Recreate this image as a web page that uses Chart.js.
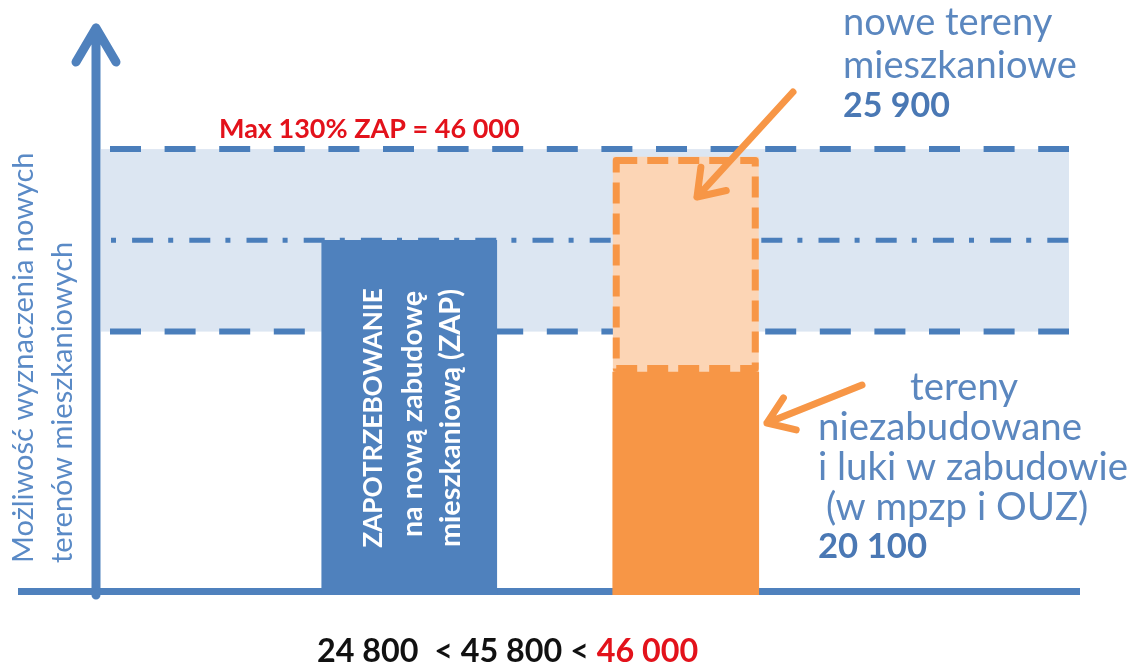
<!DOCTYPE html>
<html lang="pl">
<head>
<meta charset="utf-8">
<title>Możliwość wyznaczenia nowych terenów mieszkaniowych</title>
<script src="https://cdn.jsdelivr.net/npm/chart.js@4.4.1/dist/chart.umd.min.js"></script>
<style>
  html, body { margin: 0; padding: 0; background: #fff; }
  canvas { display: block; }
</style>
</head>
<body>
<canvas id="wykres" width="1130" height="670"></canvas>
<script>
  // dane
  const kategorie = ["ZAP", "Tereny"];
  const zapotrzebowanie = [35400, null];      // ZAP
  const terenyNiezabudowane = [null, 20100];  // w mpzp i OUZ
  const noweTereny = [null, 25900];           // nowe tereny mieszkaniowe
  const pasmo = [24800, 46000];               // 70% ZAP .. 130% ZAP
  const poziomZap = 35400;

  const NIEBIESKI = "#4f81bd";
  const POMARANCZ = "#f79646";
  const CZERWONY = "#e3121b";
  const FONT = "Lato";

  // dobiera rozmiar czcionki do szerokości z oryginału
  function rozmiar(ctx, tekst, waga, szer) {
    ctx.font = waga + " 100px " + FONT;
    return 100 * szer / ctx.measureText(tekst).width;
  }

  function strzalka(ctx, x1, y1, x2, y2) {
    const kat = Math.atan2(y1 - y2, x1 - x2);
    const dl = 30, rozw = 35 * Math.PI / 180;
    ctx.beginPath();
    ctx.moveTo(x1, y1);
    ctx.lineTo(x2, y2);
    ctx.moveTo(x2 + dl * Math.cos(kat + rozw), y2 + dl * Math.sin(kat + rozw));
    ctx.lineTo(x2, y2);
    ctx.lineTo(x2 + dl * Math.cos(kat - rozw), y2 + dl * Math.sin(kat - rozw));
    ctx.stroke();
  }

  function linia(ctx, x1, x2, y) {
    ctx.beginPath();
    ctx.moveTo(x1, y);
    ctx.lineTo(x2, y);
    ctx.stroke();
  }

  const rysunek = {
    id: "rysunek",
    beforeDatasetsDraw(chart) {
      const ctx = chart.ctx;
      const y = chart.scales.y;
      const dol = chart.chartArea.bottom;
      const yGora = y.getPixelForValue(pasmo[1]);
      const yDol = y.getPixelForValue(pasmo[0]);
      const yZap = y.getPixelForValue(poziomZap);
      ctx.save();

      // pasmo 70-130% ZAP
      ctx.fillStyle = "#dce6f2";
      ctx.fillRect(101, yGora, 968, yDol - yGora);

      ctx.strokeStyle = "#4a7ebb";
      ctx.lineWidth = 6;
      ctx.setLineDash([31, 23.6]);
      linia(ctx, 110, 1069, yGora);
      linia(ctx, 110, 1069, yDol);

      ctx.lineWidth = 5;
      ctx.setLineDash([5, 16.1, 21, 15.1]);
      linia(ctx, 111, 1069, yZap);
      ctx.setLineDash([]);

      // osie
      ctx.strokeStyle = NIEBIESKI;
      ctx.lineWidth = 7;
      linia(ctx, 18, 1080, dol - 3.5);
      ctx.lineWidth = 9;
      ctx.lineCap = "round";
      ctx.lineJoin = "round";
      ctx.beginPath();
      ctx.moveTo(96, dol);
      ctx.lineTo(96, 28);
      ctx.moveTo(76, 62);
      ctx.lineTo(96, 28);
      ctx.lineTo(116, 62);
      ctx.stroke();
      ctx.restore();
    },
    afterDatasetsDraw(chart) {
      const ctx = chart.ctx;
      ctx.save();

      // przerywana ramka nowych terenów
      const el = chart.getDatasetMeta(2).data[1];
      const p = el.getProps(["x", "y", "base", "width"], true);
      ctx.strokeStyle = POMARANCZ;
      ctx.lineWidth = 7;
      ctx.lineJoin = "round";
      ctx.setLineDash([21, 10]);
      ctx.strokeRect(p.x - p.width / 2 + 3.5, p.y + 8 + 3.5, p.width - 7, p.base - p.y - 8 - 7);
      ctx.setLineDash([]);

      // napis w słupku ZAP
      const zap = chart.getDatasetMeta(0).data[0];
      ctx.save();
      ctx.translate(zap.x, 418);
      ctx.rotate(-Math.PI / 2);
      ctx.fillStyle = "#ffffff";
      ctx.textAlign = "center";
      ctx.font = "bold " + rozmiar(ctx, "ZAPOTRZEBOWANIE", "bold", 260).toFixed(1) + "px " + FONT;
      ctx.fillText("ZAPOTRZEBOWANIE", 0, zap.x > 0 ? 382 - zap.x : 0);
      const s2 = rozmiar(ctx, "mieszkaniową (ZAP)", "bold", 258);
      ctx.font = "bold " + s2.toFixed(1) + "px " + FONT;
      ctx.fillText("na nową zabudowę", 4, 422 - zap.x);
      ctx.fillText("mieszkaniową (ZAP)", 0, 460 - zap.x);
      ctx.restore();

      // strzałki
      ctx.strokeStyle = POMARANCZ;
      ctx.lineWidth = 7;
      ctx.lineCap = "round";
      ctx.lineJoin = "round";
      strzalka(ctx, 793, 92, 697, 197);
      strzalka(ctx, 862, 385, 767, 423);

      // opis osi Y
      ctx.save();
      ctx.fillStyle = "#5a8ac6";
      const sOs = rozmiar(ctx, "Możliwość wyznaczenia nowych", "normal", 410);
      ctx.font = sOs.toFixed(1) + "px " + FONT;
      ctx.textAlign = "left";
      ctx.translate(33, 563);
      ctx.rotate(-Math.PI / 2);
      ctx.fillText("Możliwość wyznaczenia nowych", 0, 0);
      ctx.fillText("terenów mieszkaniowych", 0, 39);
      ctx.restore();

      ctx.textAlign = "left";

      // Max 130%
      ctx.fillStyle = CZERWONY;
      ctx.font = "bold " + rozmiar(ctx, "Max 130% ZAP = 46 000", "bold", 301).toFixed(1) + "px " + FONT;
      ctx.fillText("Max 130% ZAP = 46 000", 219, 138);

      // nowe tereny
      ctx.fillStyle = "#5b87bf";
      const sGora = rozmiar(ctx, "mieszkaniowe", "normal", 234);
      ctx.font = sGora.toFixed(1) + "px " + FONT;
      ctx.fillText("nowe tereny", 843, 35);
      ctx.fillText("mieszkaniowe", 843, 78);
      ctx.fillStyle = "#4a78b4";
      ctx.font = "bold " + rozmiar(ctx, "25 900", "bold", 107).toFixed(1) + "px " + FONT;
      ctx.fillText("25 900", 843, 117);

      // tereny niezabudowane
      ctx.fillStyle = "#5b87bf";
      const sDol = rozmiar(ctx, "niezabudowane", "normal", 264);
      ctx.font = sDol.toFixed(1) + "px " + FONT;
      ctx.fillText("tereny", 910, 400);
      ctx.fillText("niezabudowane", 818, 440);
      ctx.fillText("i luki w zabudowie", 818, 480);
      ctx.fillText("(w mpzp i OUZ)", 826, 520);
      ctx.fillStyle = "#4a78b4";
      ctx.font = "bold " + rozmiar(ctx, "20 100", "bold", 109).toFixed(1) + "px " + FONT;
      ctx.fillText("20 100", 818, 558);

      // porównanie pod wykresem
      const czarny = "24 800  < 45 800 < ";
      const czerwony = "46 000";
      ctx.font = "bold " + rozmiar(ctx, czarny + czerwony, "bold", 381).toFixed(1) + "px " + FONT;
      ctx.fillStyle = "#111111";
      ctx.fillText(czarny, 317, 662);
      ctx.fillStyle = CZERWONY;
      ctx.fillText(czerwony, 317 + ctx.measureText(czarny).width, 662);

      ctx.restore();
    }
  };

  new Chart(document.getElementById("wykres"), {
    type: "bar",
    data: {
      labels: kategorie,
      datasets: [
        {
          label: "Zapotrzebowanie (ZAP)",
          data: zapotrzebowanie,
          backgroundColor: NIEBIESKI,
          barThickness: 175,
          base: -5800
        },
        {
          label: "Tereny niezabudowane i luki w zabudowie",
          data: terenyNiezabudowane,
          backgroundColor: POMARANCZ,
          barThickness: 146,
          base: -5800
        },
        {
          label: "Nowe tereny mieszkaniowe",
          data: noweTereny,
          backgroundColor: "#fcd5b5",
          borderColor: "rgba(0,0,0,0)",
          borderWidth: { top: 8, right: 0, bottom: 0, left: 0 },
          borderSkipped: "bottom",
          barThickness: 146
        }
      ]
    },
    options: {
      responsive: false,
      animation: false,
      devicePixelRatio: 1,
      layout: { padding: { left: 271, right: 306, top: 20, bottom: 75 } },
      plugins: {
        legend: { display: false },
        tooltip: { enabled: false }
      },
      scales: {
        x: { display: false, stacked: true },
        y: { display: false, stacked: true, min: -5800, max: 61000 }
      }
    },
    plugins: [rysunek]
  });
</script>
</body>
</html>
